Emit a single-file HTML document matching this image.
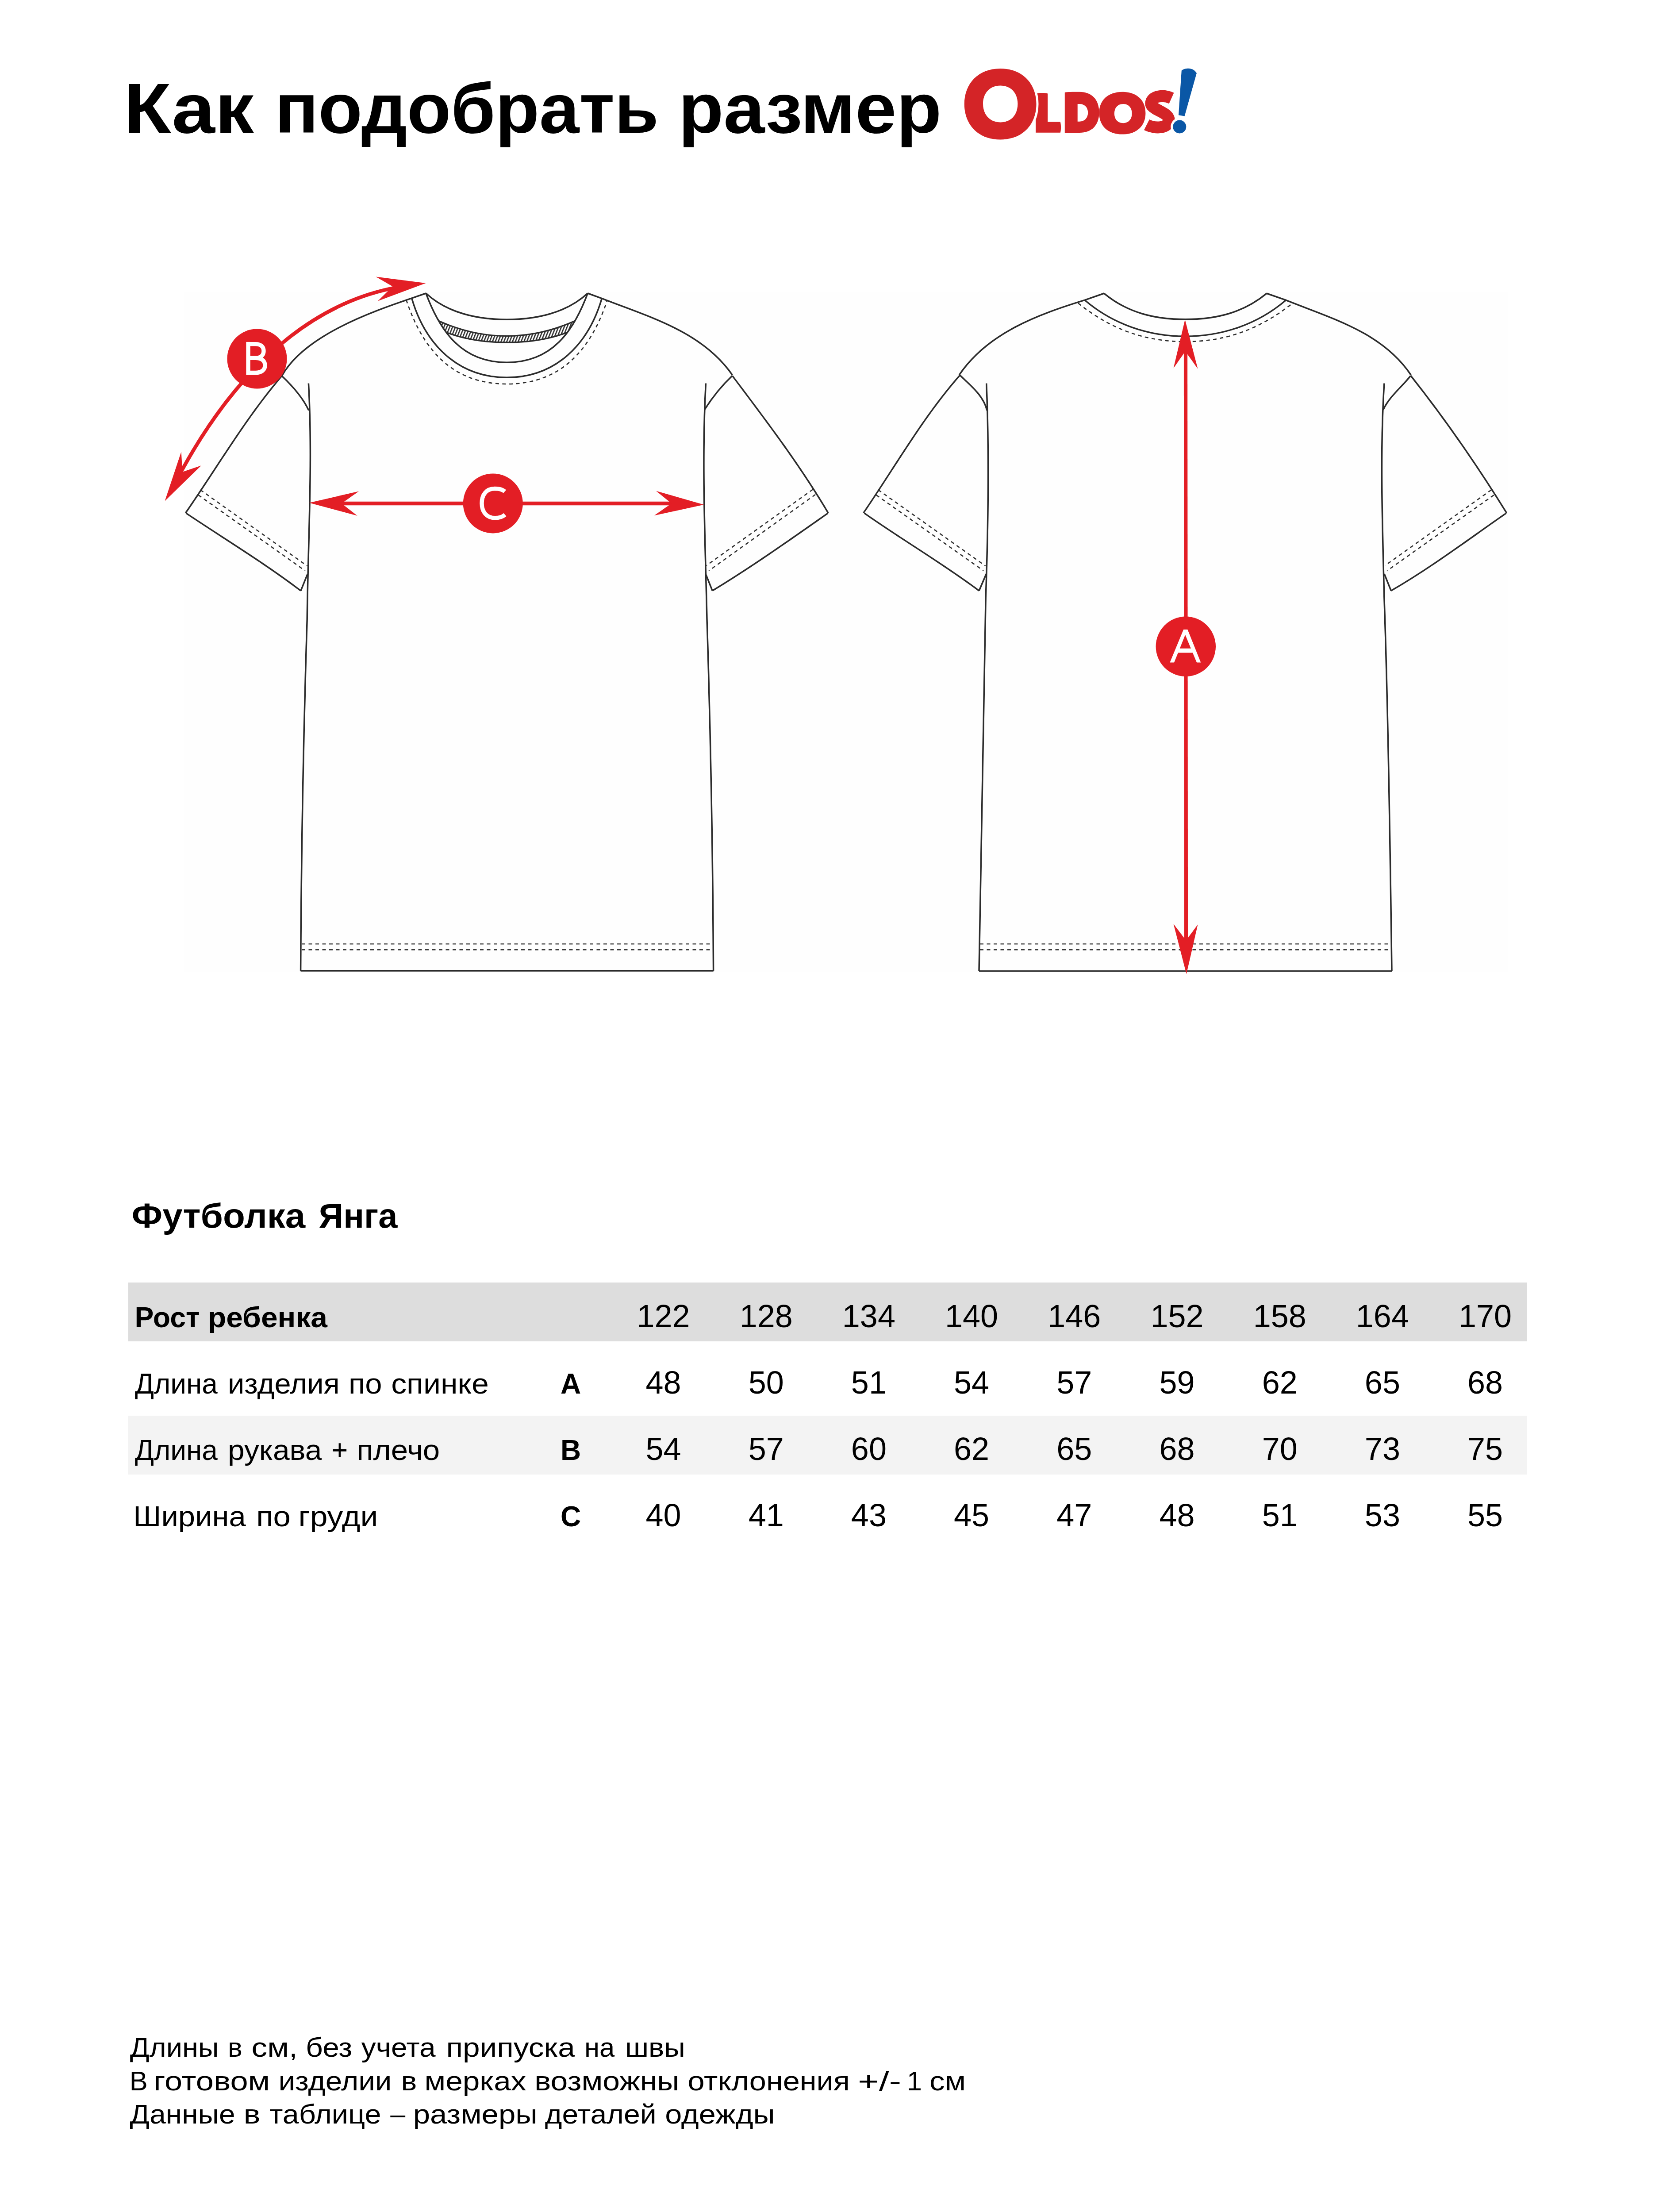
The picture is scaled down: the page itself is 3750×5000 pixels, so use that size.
<!DOCTYPE html>
<html lang="ru"><head><meta charset="utf-8"><title>Как подобрать размер</title>
<style>
html,body{margin:0;padding:0;background:#fff;}
body{width:3750px;height:5000px;overflow:hidden;position:relative;}
svg{position:absolute;left:0;top:0;display:block;}
text{font-family:"Liberation Sans",sans-serif;fill:#000;}
</style></head><body>
<svg width="3750" height="5000" viewBox="0 0 3750 5000">
<rect x="290" y="2899" width="3162" height="133" fill="#dddddd"/>
<rect x="290" y="3200" width="3162" height="133" fill="#f3f3f3"/>
<rect x="417" y="660" width="2992" height="1537" fill="#fefefe"/>
<g fill="none" stroke="#2b2b2b" stroke-width="3.5" stroke-linejoin="miter" stroke-linecap="butt">
<path d="M962.7 662.8 C1011.5 708.2 1081 722.2 1145.6 722.2 C1210.2 722.2 1279.7 708.2 1328.5 662.8"/>
<path d="M962.7 662.8 C995.2 749.5 1043.6 819.3 1145.6 819.3 C1247.6 819.3 1296 749.5 1328.5 662.8"/>
<path d="M931.1 675.6 C961.1 777.6 1034.3 853.3 1145.6 853.3 C1256.9 853.3 1330.1 777.6 1360.1 675.6"/>
<path d="M962.6 663 L931.2 673.9 C838.9 705.1 688 758.3 637.1 849.7"/>
<path d="M637.1 849.7 C555.1 945.6 491.4 1055.5 419.6 1159.3"/>
<path d="M420.4 1159.9 C507.4 1218.2 596.7 1272 679.9 1335.3"/>
<path d="M679.9 1335.3 L695.2 1297.3"/>
<path d="M637.1 849.7 C661.1 872.4 684.1 897.5 697.9 927.8"/>
<path d="M697.4 866.5 C707.2 1044.4 696.2 1221.6 694.2 1400 C685.7 1665.7 680.9 1930.5 679.6 2194.4"/>
<path d="M1328.7 663 L1361.2 674.9 C1466.9 716.5 1586.9 748.9 1655.3 847.5"/>
<path d="M1655.3 849.2 C1731.5 950.3 1807.4 1050.4 1872 1159.3"/>
<path d="M1871.6 1159.9 C1785.6 1220.3 1700 1280.9 1610.3 1335.3"/>
<path d="M1610.3 1335.3 L1595.9 1299.1"/>
<path d="M1655.3 849.2 C1631.2 871.8 1610.7 897.5 1593 925.3"/>
<path d="M1595.4 866.5 C1585.7 1044 1594.2 1222.5 1598 1400 C1606.5 1665.9 1611.3 1930.7 1612.6 2194.4"/>
<path d="M679.6 2194.4 L1612.6 2194.4"/>
<path d="M2495.8 663.3 C2549.6 707.7 2611.3 721.8 2679.4 721.8 C2747.5 721.8 2809.2 707.7 2863 663.3"/>
<path d="M2452.7 679 C2516.1 732.9 2596.2 760.2 2679.4 760.2 C2762.6 760.2 2842.7 732.9 2906.1 679"/>
<path d="M2495.9 663 L2452.5 678.2 C2347.3 710.7 2233 751.8 2168.2 847.5"/>
<path d="M2169.8 848.1 C2086.1 943.2 2023.1 1055.2 1951.9 1159.3"/>
<path d="M1953.6 1159.9 C2039.2 1220.3 2129.5 1272.6 2213.1 1335.3"/>
<path d="M2213.1 1335.3 L2229.3 1297.3"/>
<path d="M2169.8 848.1 C2193.2 871 2223.1 893.7 2230.9 927.6"/>
<path d="M2229.7 866.5 C2236.6 1027.4 2233.8 1189.1 2228.2 1350 C2222.7 1532.3 2217.7 1814 2213 2195"/>
<path d="M2862.6 663 L2906 678.2 C3008.2 719.5 3124.3 750.5 3189.2 847.5"/>
<path d="M3188.8 849.2 C3267.6 948.6 3338.8 1051.9 3405.5 1159.3"/>
<path d="M3404.8 1159.9 C3318.7 1219.5 3235.2 1282.8 3144.4 1335.3"/>
<path d="M3144.4 1335.3 L3129 1297"/>
<path d="M3188.8 849.2 C3168.5 875.2 3140.5 895.8 3126.5 926.5"/>
<path d="M3128.8 866.5 C3118.9 1027.4 3125.1 1189.1 3128.8 1350 C3135.3 1532.3 3141.1 1814 3146 2195"/>
<path d="M2213 2195 L3146 2195"/>
</g>
<g fill="none" stroke="#2b2b2b" stroke-width="2.6" stroke-dasharray="8 7.5">
<path d="M918.3 677.9 C954.8 788.4 1021.3 868 1145.6 868 C1269.9 868 1336.4 788.4 1372.9 677.9"/>
<path d="M453 1107.4 L694.3 1279.2"/>
<path d="M448.4 1119 L689.8 1290.1"/>
<path d="M1837.4 1106.3 L1596.8 1278.3"/>
<path d="M1843.2 1117.8 L1602.2 1290.1"/>
<path d="M2437 685.3 C2510.1 743.5 2586.5 772.2 2679.4 772.2 C2772.3 772.2 2848.7 743.5 2921.8 685.3"/>
<path d="M1985.3 1107.4 L2227.5 1279.2"/>
<path d="M1980.7 1119 L2223 1290.1"/>
<path d="M3370.9 1107.4 L3130.8 1278.3"/>
<path d="M3376.7 1119 L3135.4 1290.1"/>
</g>
<g fill="none" stroke="#2b2b2b" stroke-dasharray="8 7.5"><path stroke-width="2.2" d="M682 2133.6 L1610 2133.6 M2215 2133.6 L3144 2133.6"/><path stroke-width="3" d="M682 2146.8 L1610 2146.8 M2215 2146.8 L3144 2146.8"/></g>
<defs><pattern id="hatch" patternUnits="userSpaceOnUse" width="6" height="40" patternTransform="rotate(22)"><rect x="0" y="0" width="2.7" height="40" fill="#2b2b2b"/></pattern></defs>
<path d="M991.4 725.3 C1039.8 746.9 1092.6 759.5 1145.6 759.5 C1198.6 759.5 1251.4 746.9 1299.8 725.3 L1283.2 751 C1240 767.8 1191.8 774 1145.6 774 C1099.4 774 1051.2 767.8 1008 751 Z" fill="url(#hatch)"/>
<path d="M991.4 725.3 C1039.8 746.9 1092.6 759.5 1145.6 759.5 C1198.6 759.5 1251.4 746.9 1299.8 725.3" fill="none" stroke="#2b2b2b" stroke-width="3.2"/>
<path d="M1008 751 C1051.2 767.8 1099.4 774 1145.6 774 C1191.8 774 1240 767.8 1283.2 751" fill="none" stroke="#2b2b2b" stroke-width="3.2"/>
<path d="M893 650.3 L881.3 652.8 C670.1 698.6 518.8 870.8 417.2 1052.2 L407.4 1069.6" fill="none" stroke="#e31e25" stroke-width="8.2"/>
<path d="M962.5 640 L849.5 625.4 L887.5 647.5 L854 680.6 Z" fill="#e31e25"/>
<path d="M372.6 1132.4 L409.7 1021.1 L412.4 1066.8 L454.9 1052.3 Z" fill="#e31e25"/>
<path d="M770 1138 L1520 1138" stroke="#e31e25" stroke-width="8.5"/>
<path d="M698.8 1136.6 L811.1 1110.4 L772.1 1138 L807.8 1165.7 Z" fill="#e31e25"/>
<path d="M1591.1 1140.8 L1483.1 1109.8 L1517.9 1138 L1478.8 1165.2 Z" fill="#e31e25"/>
<path d="M2680 790 L2681 2130" stroke="#e31e25" stroke-width="8.2"/>
<path d="M2678.6 722.4 L2652.5 832.4 L2679.3 794 L2707.5 833.8 Z" fill="#e31e25"/>
<path d="M2681.8 2201.8 L2652.5 2088.2 L2680.8 2125.8 L2707.5 2089.7 Z" fill="#e31e25"/>
<circle cx="581" cy="811" r="67.5" fill="#e31e25"/>
<circle cx="1114.3" cy="1137.9" r="67.5" fill="#e31e25"/>
<circle cx="2680.3" cy="1461.3" r="67.7" fill="#e31e25"/>
<rect x="556.4" y="772.9" width="9.4" height="74.3" fill="#fff"/>
<path d="M561 777.6 L577 777.6 C590 777.6 596 784 596 793.5 C596 803 589 809.3 577 809.3 L561 809.3 M561 809.3 L578 809.3 C592 809.3 599 816 599 826 C599 836 591 842.5 578 842.5 L561 842.5" fill="none" stroke="#fff" stroke-width="9.4"/>
<path d="M1141 1111 C1134 1105 1126 1104.5 1118 1104.5 C1099 1104.5 1089 1119 1089 1137.6 C1089 1157 1100 1170.8 1119 1170.8 C1127 1170.8 1135 1169 1141.5 1163.5" fill="none" stroke="#fff" stroke-width="9.4"/>
<path fill-rule="evenodd" fill="#fff" d="M2644.4 1497.6 L2675.2 1422.9 L2684.4 1422.9 L2714.3 1497.6 L2705.1 1497.6 L2695.9 1475.5 L2662.9 1475.5 L2654 1497.6 Z M2666.8 1465.8 L2691.9 1465.8 L2679.1 1435 Z"/>
<path fill="#d42427" d="M2341 212 C2345 209.5 2362 209.5 2368.2 211.5 L2368.2 275.6 L2396.8 275.6 C2398.5 283 2398.5 292 2397 299.7 L2341 299.7 Z"/>
<path fill="none" stroke="#fff" stroke-width="10" d="M2261.2 155 C2311 155 2342.5 189 2342.5 235.2 C2342.5 282 2311 315.5 2261.2 315.5 C2211 315.5 2179.8 282 2179.8 235.2 C2179.8 189 2211 155 2261.2 155 Z"/>
<path fill-rule="evenodd" fill="#d42427" d="M2261.2 155 C2311 155 2342.5 189 2342.5 235.2 C2342.5 282 2311 315.5 2261.2 315.5 C2211 315.5 2179.8 282 2179.8 235.2 C2179.8 189 2211 155 2261.2 155 Z M2261.2 193.5 C2237 193.5 2222 211 2222 234.5 C2222 259 2237 276.4 2261.2 276.4 C2286 276.4 2300.4 259 2300.4 234.5 C2300.4 211 2286 193.5 2261.2 193.5 Z"/>
<path fill-rule="evenodd" fill="#d42427" d="M2406.8 209 C2412 207.8 2425 207.8 2440 207.8 C2468 207.8 2484.5 225 2484.5 254 C2484.5 283 2468 300 2440 300 L2406.8 300 Z M2435.7 234.9 L2435.7 274.7 L2440 274.7 C2452 274.7 2459.2 266 2459.2 254.5 C2459.2 243 2452 234.9 2440 234.9 Z"/>
<path fill-rule="evenodd" fill="#d42427" d="M2537 207.8 C2569 207.8 2589.4 226 2589.4 255.7 C2589.4 285 2569 303.6 2537 303.6 C2505 303.6 2484.5 285 2484.5 255.7 C2484.5 226 2505 207.8 2537 207.8 Z M2538.8 234.9 C2526 234.9 2518.9 244 2518.9 256.6 C2518.9 269 2526 278.3 2538.8 278.3 C2551.5 278.3 2558.7 269 2558.7 256.6 C2558.7 244 2551.5 234.9 2538.8 234.9 Z"/>
<path fill="none" stroke="#d42427" stroke-width="27" d="M2648 222 C2630 214 2605 216 2602 232 C2599 248 2640 252 2642 270 C2644 290 2612 292 2592 282"/>
<circle cx="2666.3" cy="286.5" r="20" fill="#fff"/>
<circle cx="2666.3" cy="286.5" r="15" fill="#0a57a6"/>
<path fill="#0a57a6" d="M2670.8 159.6 C2675 155.5 2682 154.6 2687 154.8 C2695 155.2 2701 159 2704.9 165.3 L2677.6 262.5 L2664 260.3 Z"/>
<text x="279.5" y="299.8" font-size="160" font-weight="bold" textLength="294.1" lengthAdjust="spacingAndGlyphs">Как</text>
<text x="621.4" y="299.8" font-size="160" font-weight="bold" textLength="867.6" lengthAdjust="spacingAndGlyphs">подобрать</text>
<text x="1533.5" y="299.8" font-size="160" font-weight="bold" textLength="594.8" lengthAdjust="spacingAndGlyphs">размер</text>
<text x="297.5" y="2775" font-size="77" font-weight="bold" textLength="392.6" lengthAdjust="spacingAndGlyphs">Футболка</text>
<text x="720.5" y="2775" font-size="77" font-weight="bold" textLength="178" lengthAdjust="spacingAndGlyphs">Янга</text>
<text x="304.4" y="3000.2" font-size="64" font-weight="bold" textLength="147.2" lengthAdjust="spacingAndGlyphs">Рост</text>
<text x="470" y="3000.2" font-size="64" font-weight="bold" textLength="269.9" lengthAdjust="spacingAndGlyphs">ребенка</text>
<text x="304.7" y="3150.2" font-size="64" textLength="187.2" lengthAdjust="spacingAndGlyphs">Длина</text>
<text x="515" y="3150.2" font-size="64" textLength="252.7" lengthAdjust="spacingAndGlyphs">изделия</text>
<text x="788" y="3150.2" font-size="64" textLength="75.5" lengthAdjust="spacingAndGlyphs">по</text>
<text x="884.2" y="3150.2" font-size="64" textLength="220.6" lengthAdjust="spacingAndGlyphs">спинке</text>
<text x="304.7" y="3300.2" font-size="64" textLength="187.2" lengthAdjust="spacingAndGlyphs">Длина</text>
<text x="515" y="3300.2" font-size="64" textLength="212.5" lengthAdjust="spacingAndGlyphs">рукава</text>
<text x="749.6" y="3300.2" font-size="64" textLength="36.7" lengthAdjust="spacingAndGlyphs">+</text>
<text x="806.2" y="3300.2" font-size="64" textLength="188" lengthAdjust="spacingAndGlyphs">плечо</text>
<text x="301.3" y="3450.2" font-size="64" textLength="254.6" lengthAdjust="spacingAndGlyphs">Ширина</text>
<text x="579.3" y="3450.2" font-size="64" textLength="77.6" lengthAdjust="spacingAndGlyphs">по</text>
<text x="674.6" y="3450.2" font-size="64" textLength="179.8" lengthAdjust="spacingAndGlyphs">груди</text>
<text x="293.7" y="4649.4" font-size="61" textLength="200.9" lengthAdjust="spacingAndGlyphs">Длины</text>
<text x="515.2" y="4649.4" font-size="61" textLength="32.5" lengthAdjust="spacingAndGlyphs">в</text>
<text x="568.6" y="4649.4" font-size="61" textLength="104.2" lengthAdjust="spacingAndGlyphs">см,</text>
<text x="691.1" y="4649.4" font-size="61" textLength="105.3" lengthAdjust="spacingAndGlyphs">без</text>
<text x="816.8" y="4649.4" font-size="61" textLength="167.8" lengthAdjust="spacingAndGlyphs">учета</text>
<text x="1008.5" y="4649.4" font-size="61" textLength="291.3" lengthAdjust="spacingAndGlyphs">припуска</text>
<text x="1321" y="4649.4" font-size="61" textLength="68.4" lengthAdjust="spacingAndGlyphs">на</text>
<text x="1412.9" y="4649.4" font-size="61" textLength="135.8" lengthAdjust="spacingAndGlyphs">швы</text>
<text x="292.7" y="4724.7" font-size="61" textLength="41.1" lengthAdjust="spacingAndGlyphs">В</text>
<text x="347.3" y="4724.7" font-size="61" textLength="262.8" lengthAdjust="spacingAndGlyphs">готовом</text>
<text x="629.4" y="4724.7" font-size="61" textLength="256.1" lengthAdjust="spacingAndGlyphs">изделии</text>
<text x="906.6" y="4724.7" font-size="61" textLength="35.8" lengthAdjust="spacingAndGlyphs">в</text>
<text x="959.6" y="4724.7" font-size="61" textLength="229.8" lengthAdjust="spacingAndGlyphs">мерках</text>
<text x="1208.3" y="4724.7" font-size="61" textLength="327.1" lengthAdjust="spacingAndGlyphs">возможны</text>
<text x="1554.5" y="4724.7" font-size="61" textLength="366.4" lengthAdjust="spacingAndGlyphs">отклонения</text>
<text x="1939.3" y="4724.7" font-size="61" textLength="97.8" lengthAdjust="spacingAndGlyphs">+/-</text>
<text x="2067" y="4724.7" font-size="61" text-anchor="middle">1</text>
<text x="2101" y="4724.7" font-size="61" textLength="82.2" lengthAdjust="spacingAndGlyphs">см</text>
<text x="293.6" y="4799.5" font-size="61" textLength="238" lengthAdjust="spacingAndGlyphs">Данные</text>
<text x="550.7" y="4799.5" font-size="61" textLength="37.6" lengthAdjust="spacingAndGlyphs">в</text>
<text x="609" y="4799.5" font-size="61" textLength="252.5" lengthAdjust="spacingAndGlyphs">таблице</text>
<text x="899.3" y="4799.5" font-size="61" text-anchor="middle">–</text>
<text x="933.7" y="4799.5" font-size="61" textLength="281.1" lengthAdjust="spacingAndGlyphs">размеры</text>
<text x="1231.8" y="4799.5" font-size="61" textLength="251.9" lengthAdjust="spacingAndGlyphs">деталей</text>
<text x="1503.2" y="4799.5" font-size="61" textLength="248.6" lengthAdjust="spacingAndGlyphs">одежды</text>
<text x="1290" y="3150.2" font-size="64" font-weight="bold" text-anchor="middle">A</text>
<text x="1290" y="3300.2" font-size="64" font-weight="bold" text-anchor="middle">B</text>
<text x="1290" y="3450.2" font-size="64" font-weight="bold" text-anchor="middle">C</text>
<text x="1499.5" y="3000.2" font-size="72" text-anchor="middle">122</text>
<text x="1731.7" y="3000.2" font-size="72" text-anchor="middle">128</text>
<text x="1963.9" y="3000.2" font-size="72" text-anchor="middle">134</text>
<text x="2196.1" y="3000.2" font-size="72" text-anchor="middle">140</text>
<text x="2428.3" y="3000.2" font-size="72" text-anchor="middle">146</text>
<text x="2660.5" y="3000.2" font-size="72" text-anchor="middle">152</text>
<text x="2892.7" y="3000.2" font-size="72" text-anchor="middle">158</text>
<text x="3124.9" y="3000.2" font-size="72" text-anchor="middle">164</text>
<text x="3357.1" y="3000.2" font-size="72" text-anchor="middle">170</text>
<text x="1499.5" y="3150.2" font-size="72" text-anchor="middle">48</text>
<text x="1731.7" y="3150.2" font-size="72" text-anchor="middle">50</text>
<text x="1963.9" y="3150.2" font-size="72" text-anchor="middle">51</text>
<text x="2196.1" y="3150.2" font-size="72" text-anchor="middle">54</text>
<text x="2428.3" y="3150.2" font-size="72" text-anchor="middle">57</text>
<text x="2660.5" y="3150.2" font-size="72" text-anchor="middle">59</text>
<text x="2892.7" y="3150.2" font-size="72" text-anchor="middle">62</text>
<text x="3124.9" y="3150.2" font-size="72" text-anchor="middle">65</text>
<text x="3357.1" y="3150.2" font-size="72" text-anchor="middle">68</text>
<text x="1499.5" y="3300.2" font-size="72" text-anchor="middle">54</text>
<text x="1731.7" y="3300.2" font-size="72" text-anchor="middle">57</text>
<text x="1963.9" y="3300.2" font-size="72" text-anchor="middle">60</text>
<text x="2196.1" y="3300.2" font-size="72" text-anchor="middle">62</text>
<text x="2428.3" y="3300.2" font-size="72" text-anchor="middle">65</text>
<text x="2660.5" y="3300.2" font-size="72" text-anchor="middle">68</text>
<text x="2892.7" y="3300.2" font-size="72" text-anchor="middle">70</text>
<text x="3124.9" y="3300.2" font-size="72" text-anchor="middle">73</text>
<text x="3357.1" y="3300.2" font-size="72" text-anchor="middle">75</text>
<text x="1499.5" y="3450.2" font-size="72" text-anchor="middle">40</text>
<text x="1731.7" y="3450.2" font-size="72" text-anchor="middle">41</text>
<text x="1963.9" y="3450.2" font-size="72" text-anchor="middle">43</text>
<text x="2196.1" y="3450.2" font-size="72" text-anchor="middle">45</text>
<text x="2428.3" y="3450.2" font-size="72" text-anchor="middle">47</text>
<text x="2660.5" y="3450.2" font-size="72" text-anchor="middle">48</text>
<text x="2892.7" y="3450.2" font-size="72" text-anchor="middle">51</text>
<text x="3124.9" y="3450.2" font-size="72" text-anchor="middle">53</text>
<text x="3357.1" y="3450.2" font-size="72" text-anchor="middle">55</text>
</svg>
</body></html>
